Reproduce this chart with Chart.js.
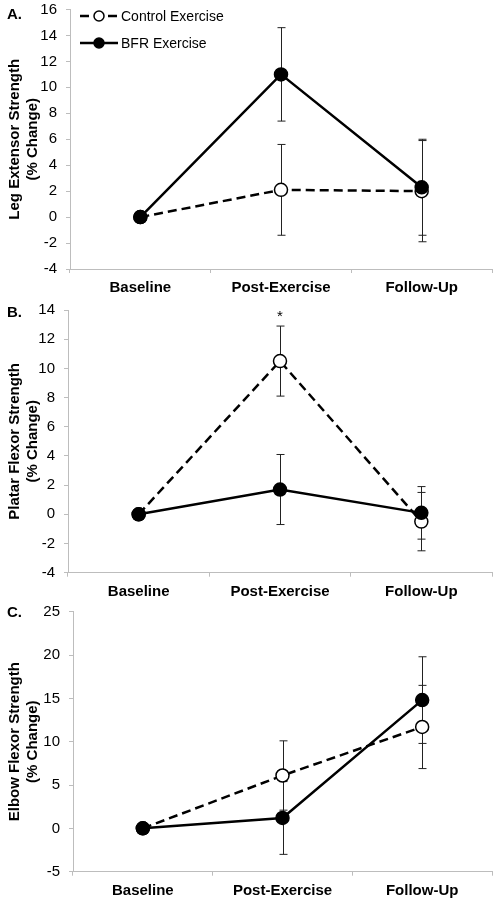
<!DOCTYPE html>
<html>
<head>
<meta charset="utf-8">
<script src="https://cdn.jsdelivr.net/npm/chart.js@4"></script>
<style>
  body { margin: 0; background: #fff; }
  canvas { display: block; }
</style>
</head>
<body>
<canvas id="chartA" width="500" height="300"></canvas>
<canvas id="chartB" width="500" height="300"></canvas>
<canvas id="chartC" width="500" height="300"></canvas>
<script>
const categories = ["Baseline", "Post-Exercise", "Follow-Up"];
const seriesNames = ["Control Exercise", "BFR Exercise"];

// A. leg extensor
const legControl = [0, 2.1, 2.0];
const legControlErr = [0, 3.5, 3.9];
const legBfr = [0, 11.0, 2.3];
const legBfrErr = [0, 3.6, 3.7];

// B. plantar flexor
const plantarControl = [0, 10.5, -0.5];
const plantarControlErr = [0, 2.4, 2.0];
const plantarBfr = [0, 1.7, 0.1];
const plantarBfrErr = [0, 2.4, 1.8];
const plantarSignif = ["", "*", ""];

// C. elbow flexor
const elbowControl = [0, 6.1, 11.7];
const elbowControlErr = [0, 4.0, 4.8];
const elbowBfr = [0, 1.2, 14.8];
const elbowBfrErr = [0, 4.2, 5.0];

const FONT = "'Liberation Sans', Arial, sans-serif";
const AXIS_GRAY = "#bdbdbd";

Chart.defaults.font.family = FONT;
Chart.defaults.color = "#000";

// error bars drawn before the lines so markers sit on top
const errorBars = {
  id: "errorBars",
  beforeDatasetsDraw(chart) {
    const ctx = chart.ctx;
    const yScale = chart.scales.y;
    ctx.save();
    ctx.strokeStyle = "#222";
    ctx.lineWidth = 1;
    chart.data.datasets.forEach((ds, i) => {
      chart.getDatasetMeta(i).data.forEach((pt, j) => {
        const err = ds.errors[j];
        if (!err) return;
        const top = yScale.getPixelForValue(ds.data[j] + err);
        const bottom = yScale.getPixelForValue(ds.data[j] - err);
        const x = Math.round(pt.x) + 0.5;
        ctx.beginPath();
        ctx.moveTo(x, top);
        ctx.lineTo(x, bottom);
        ctx.moveTo(x - 4, top);
        ctx.lineTo(x + 4, top);
        ctx.moveTo(x - 4, bottom);
        ctx.lineTo(x + 4, bottom);
        ctx.stroke();
      });
    });
    ctx.restore();
  }
};

// panel letter, significance marks and (panel A) the legend
const extras = {
  id: "extras",
  afterDraw(chart, args, opts) {
    const ctx = chart.ctx;
    const area = chart.chartArea;
    ctx.save();
    ctx.fillStyle = "#000";
    ctx.font = "bold 15px " + FONT;
    ctx.textBaseline = "middle";
    ctx.textAlign = "left";
    ctx.fillText(opts.letter, 7, opts.letterY);

    if (opts.marks) {
      ctx.font = "15px " + FONT;
      ctx.textAlign = "center";
      opts.marks.forEach((m, j) => {
        if (!m) return;
        const x = chart.scales.x.getPixelForValue(j);
        const y = chart.scales.y.getPixelForValue(opts.markAt);
        ctx.fillText(m, x, y);
      });
    }

    if (opts.legend) {
      const x0 = area.left + 10;
      chart.data.datasets.forEach((ds, i) => {
        const y = Math.round(area.top + 6 + i * 27);
        ctx.strokeStyle = "#000";
        ctx.lineWidth = ds.borderWidth;
        ctx.setLineDash(ds.borderDash || []);
        ctx.beginPath();
        ctx.moveTo(x0, y);
        ctx.lineTo(x0 + 38, y);
        ctx.stroke();
        ctx.setLineDash([]);
        ctx.beginPath();
        ctx.arc(x0 + 19, y, 5, 0, Math.PI * 2);
        ctx.fillStyle = ds.pointBackgroundColor;
        ctx.fill();
        ctx.lineWidth = 1.5;
        ctx.stroke();
        ctx.fillStyle = "#000";
        ctx.font = "14px " + FONT;
        ctx.textAlign = "left";
        ctx.fillText(ds.label, x0 + 41, y + 1);
      });
    }
    ctx.restore();
  }
};

function makeDatasets(control, controlErr, bfr, bfrErr) {
  return [
    {
      label: seriesNames[0],
      data: control,
      errors: controlErr,
      borderColor: "#000",
      borderWidth: 2.5,
      borderDash: [9, 5],
      pointRadius: 6.5,
      pointBorderWidth: 1.5,
      pointBorderColor: "#000",
      pointBackgroundColor: "#fff",
      order: 1
    },
    {
      label: seriesNames[1],
      data: bfr,
      errors: bfrErr,
      borderColor: "#000",
      borderWidth: 2.5,
      pointRadius: 6.5,
      pointBorderWidth: 1.5,
      pointBorderColor: "#000",
      pointBackgroundColor: "#000",
      order: 0
    }
  ];
}

function makeChart(id, p) {
  return new Chart(document.getElementById(id), {
    type: "line",
    data: { labels: categories, datasets: p.datasets },
    plugins: [errorBars, extras],
    options: {
      responsive: false,
      animation: false,
      layout: { padding: { top: p.top, right: p.right, left: 0, bottom: 0 } },
      plugins: {
        legend: { display: false },
        tooltip: { enabled: false },
        extras: p.extras
      },
      scales: {
        x: {
          offset: true,
          grid: {
            offset: true,
            drawOnChartArea: false,
            tickLength: 4,
            color: AXIS_GRAY
          },
          border: { color: AXIS_GRAY, width: 1 },
          ticks: {
            padding: 6,
            maxRotation: 0,
            font: { size: 15, weight: "bold" },
            color: "#000"
          },
          afterFit: s => {
            s.height = p.xHeight;
            s.paddingLeft = 0;
            s.paddingRight = 0;
          }
        },
        y: {
          min: p.min,
          max: p.max,
          grid: {
            drawOnChartArea: false,
            tickLength: 4,
            color: AXIS_GRAY
          },
          border: { color: AXIS_GRAY, width: 1 },
          ticks: {
            stepSize: p.step,
            padding: 9,
            font: { size: 15 },
            color: "#000"
          },
          title: {
            display: true,
            text: p.title,
            font: { size: 15, weight: "bold", lineHeight: 1.2 },
            color: "#000",
            padding: { top: 6, bottom: 0 }
          },
          afterFit: s => {
            s.width = p.yWidth;
            s.paddingTop = 0;
            s.paddingBottom = 0;
          }
        }
      }
    }
  });
}

makeChart("chartA", {
  datasets: makeDatasets(legControl, legControlErr, legBfr, legBfrErr),
  min: -4, max: 16, step: 2,
  title: ["Leg Extensor Strength", "(% Change)"],
  top: 9.5, right: 7, xHeight: 31, yWidth: 70,
  extras: { letter: "A.", letterY: 15, legend: true }
});

makeChart("chartB", {
  datasets: makeDatasets(plantarControl, plantarControlErr, plantarBfr, plantarBfrErr),
  min: -4, max: 14, step: 2,
  title: ["Platar Flexor Strength", "(% Change)"],
  top: 10, right: 5, xHeight: 27.3, yWidth: 68,
  extras: { letter: "B.", letterY: 13, marks: plantarSignif, markAt: 13.5 }
});

makeChart("chartC", {
  datasets: makeDatasets(elbowControl, elbowControlErr, elbowBfr, elbowBfrErr),
  min: -5, max: 25, step: 5,
  title: ["Elbow Flexor Strength", "(% Change)"],
  top: 11.7, right: 7, xHeight: 28.3, yWidth: 73,
  extras: { letter: "C.", letterY: 13 }
});
</script>
</body>
</html>
